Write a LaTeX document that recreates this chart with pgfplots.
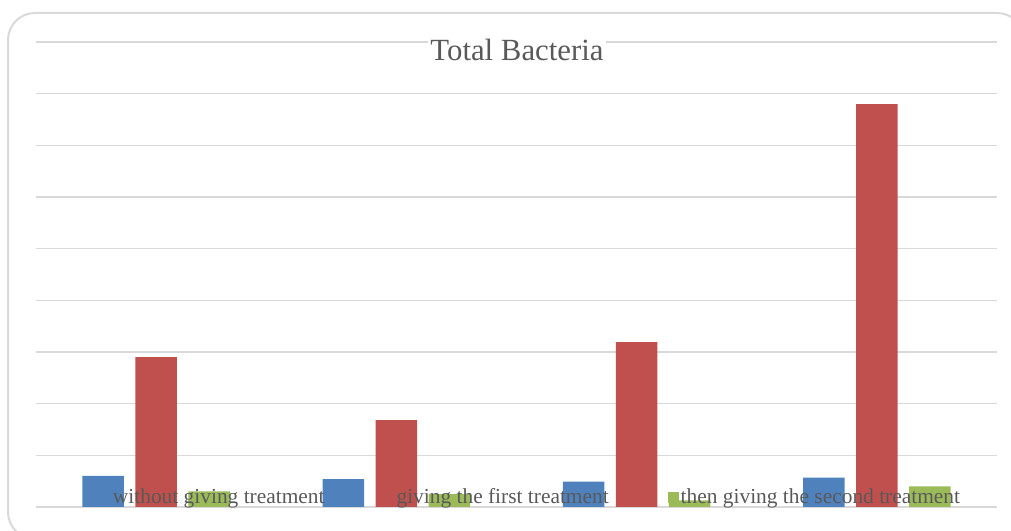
\documentclass[border=0pt]{standalone}
\usepackage{fontspec}
\setmainfont{Liberation Serif}
\usepackage{pgfplots}
\pgfplotsset{compat=1.18}

\definecolor{sblue}{HTML}{4F81BD}
\definecolor{sred}{HTML}{C0504D}
\definecolor{sgreen}{HTML}{9BBB59}
\definecolor{gridgray}{HTML}{D9D9D9}
\definecolor{txtgray}{HTML}{595959}

\pgfplotsset{sqlegend/.style={legend image code/.code={%
  \fill[##1] (0bp,-2.75bp) rectangle (5.5bp,2.75bp);}}}

\begin{document}
\begin{tikzpicture}
  % page is 1011x531 px, 1 px = 0.5bp
  \useasboundingbox (0,0) rectangle (505.5bp,265.5bp);
  \clip (0,0) rectangle (505.5bp,265.5bp);
  \draw[gridgray, line width=1bp, rounded corners=13.5bp]
    (4bp,-4bp) rectangle (512bp,259bp);

  \begin{axis}[
      at={(18bp,12bp)}, anchor=south west,
      scale only axis,
      width=480.5bp, height=232.5bp,
      xmin=-0.5, xmax=3.5,
      ymin=0, ymax=9,
      ytick={0,1,...,9}, yticklabels={},
      xtick=\empty,
      ymajorgrids,
      grid style={gridgray, line width=0.75bp},
      axis line style={draw=none},
      major tick length=0pt,
      ybar=5.75bp,
      bar width=20.75bp,
      title={Total Bacteria},
      title style={at={(0.5005,0.9355)}, anchor=base, yshift=0pt, fill=white, inner sep=1bp,
        text=txtgray, font=\fontsize{15.4bp}{18bp}\selectfont},
      legend columns=3,
      legend style={at={(0.5151,0.02)}, anchor=center, draw=none, fill=none,
        text=txtgray, font=\fontsize{10.7bp}{12.5bp}\selectfont,
        nodes={inner sep=0.75bp},
        /tikz/every even column/.append style={column sep=29bp}},
    ]
    \addplot[fill=sblue, draw=none, sqlegend]
      coordinates {(0,0.60) (1,0.54) (2,0.49) (3,0.57)};
    \addlegendentry{without giving treatment}

    \addplot[fill=sred, draw=none, sqlegend]
      coordinates {(0,2.90) (1,1.68) (2,3.19) (3,7.80)};
    \addlegendentry{giving the first treatment}

    \addplot[fill=sgreen, draw=none, sqlegend]
      coordinates {(0,0.30) (1,0.25) (2,0.13) (3,0.40)};
    \addlegendentry{then giving the second treatment}
  \end{axis}
\end{tikzpicture}
\end{document}
